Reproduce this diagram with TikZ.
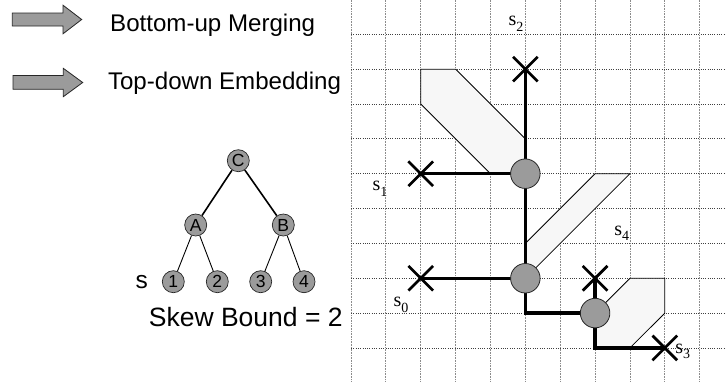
\documentclass[tikz,border=0pt]{standalone}
\usepackage{fontspec}
\setmainfont{Liberation Sans}
\newfontfamily\pinserif{Liberation Serif}
\usetikzlibrary{shapes.misc}

\pgfdeclarelayer{gridlayer}
\pgfdeclarelayer{wirelayer}
\pgfsetlayers{gridlayer,wirelayer,main}

\definecolor{nodegray}{RGB}{155,155,155}
\definecolor{regionfill}{RGB}{247,247,247}

\newcommand\pinsub[1]{\raisebox{-5.5pt}{\fontsize{14}{14}\selectfont #1}}

\tikzset{
  legendarrow/.style={draw=black!85, line width=0.8pt, fill=nodegray, line join=miter},
  legendtext/.style={anchor=base west, inner sep=0pt, font=\fontsize{24.1}{25}\selectfont},
  treenode/.style={circle, draw=black!85, line width=0.7pt, fill=nodegray,
    minimum size=22pt, inner sep=0pt, font=\fontsize{17.5}{17.5}\selectfont},
  treeedge/.style={line width=0.9pt},
  rootedge/.style={line width=1.6pt},
  mergept/.style={circle, draw=black!85, line width=0.8pt, fill=nodegray,
    minimum size=29.5pt, inner sep=0pt},
  sinkmark/.style={cross out, draw=black, line width=2.7pt, minimum size=22pt, inner sep=0pt},
  wire/.style={line width=3.3pt},
  region/.style={draw=black, line width=0.8pt, fill=regionfill, line join=miter},
  gridv/.style={draw=black!45, line width=0.8pt, dash pattern=on 0.8pt off 0.8pt},
  gridh/.style={draw=black!75, line width=0.8pt, dash pattern=on 1pt off 1.3pt},
  pinlabel/.style={anchor=base west, inner sep=0pt, font=\pinserif\fontsize{20}{20}\selectfont},
}

\begin{document}
\begin{tikzpicture}[x=1pt, y=-1pt]
  \useasboundingbox (0,0) rectangle (726,381);

  % legend arrows
  \draw[legendarrow] (12.3,13) -- (63,13) -- (63,5.2) -- (81.7,19.5) -- (63,33.8)
    -- (63,26) -- (12.3,26) -- cycle;
  \draw[legendarrow] (13,75.5) -- (63.3,75.5) -- (63.3,68.3) -- (82.7,82.5) -- (63.3,96.7)
    -- (63.3,89.3) -- (13,89.3) -- cycle;
  \node[legendtext] (merge) at (110,31.7) {Bottom-up Merging};
  \node[legendtext] (embed) at (107.8,89.3) {Top-down Embedding};

  % topology tree
  \node[treenode] (C) at (238.3,160.7) {C};
  \node[treenode] (A) at (195.7,225) {A};
  \node[treenode] (B) at (283.3,225) {B};
  \node[treenode] (l1) at (173.3,281.7) {1};
  \node[treenode] (l2) at (217.3,281.7) {2};
  \node[treenode] (l3) at (260.7,281.7) {3};
  \node[treenode] (l4) at (304,281.7) {4};
  \begin{pgfonlayer}{wirelayer}
    \draw[rootedge] (C) -- (A);
    \draw[rootedge] (C) -- (B);
    \draw[treeedge] (A) -- (l1);
    \draw[treeedge] (A) -- (l2);
    \draw[treeedge] (B) -- (l3);
    \draw[treeedge] (B) -- (l4);
  \end{pgfonlayer}
  \node[anchor=base west, inner sep=0pt, font=\fontsize{24.5}{25}\selectfont] (sinks) at (135.5,288.3) {s};
  \node[anchor=base west, inner sep=0pt, font=\fontsize{26.5}{27}\selectfont] (skew) at (148.7,326) {Skew Bound = 2};

  % routing grid with merging segments and wires
  \begin{scope}[shift={(351pt,-34.3pt)}, x=34.87pt, y=-34.85pt]
    \begin{pgfonlayer}{gridlayer}
      \foreach \i in {0,...,10} \draw[gridv] (\i,-0.99) -- (\i,9.96);
      \foreach \j in {0,...,9} \draw[gridh] (0,\j) -- (10.76,\j);
      \draw[region] (2,1) -- (3,1) -- (5,3) -- (5,4) -- (4,4) -- (2,2) -- cycle;
      \draw[region] (7,4) -- (8,4) -- (5,7) -- (5,6) -- cycle;
      \draw[region] (8,7) -- (9,7) -- (9,8) -- (8,9) -- (7,9) -- (7,8) -- cycle;
    \end{pgfonlayer}

    \node[mergept] (m1) at (5,4) {};
    \node[mergept] (m2) at (5,7) {};
    \node[mergept] (m3) at (7,8) {};
    \node[sinkmark] (t2) at (5,1) {};
    \node[sinkmark] (t1) at (2,4) {};
    \node[sinkmark] (t0) at (2,7) {};
    \node[sinkmark] (t4) at (7,7) {};
    \node[sinkmark] (t3) at (9,9) {};

    \begin{pgfonlayer}{wirelayer}
      \draw[wire] (t2.center) -- (m1.center);
      \draw[wire] (t1.center) -- (m1.center);
      \draw[wire] (m1.center) -- (m2.center);
      \draw[wire] (t0.center) -- (m2.center);
      \draw[wire] (m2.center) |- (m3.center);
      \draw[wire] (t4.center) -- (m3.center);
      \draw[wire] (m3.center) |- (t3.center);
    \end{pgfonlayer}
  \end{scope}

  % sink labels
  \node[pinlabel] (ls2) at (508.5,25.7) {s\pinsub{2}};
  \node[pinlabel] (ls1) at (372.5,190.7) {s\pinsub{1}};
  \node[pinlabel] (ls4) at (614.2,235) {s\pinsub{4}};
  \node[pinlabel] (ls0) at (393.5,306.7) {s\pinsub{0}};
  \node[pinlabel] (ls3) at (675.2,353.3) {s\pinsub{3}};
\end{tikzpicture}
\end{document}
